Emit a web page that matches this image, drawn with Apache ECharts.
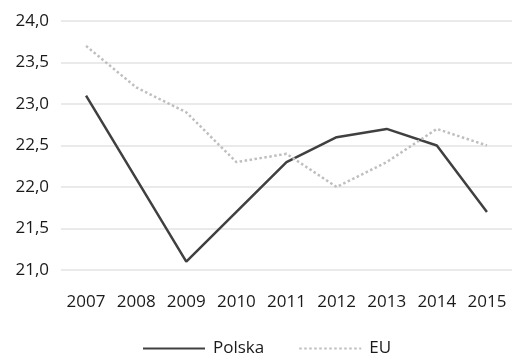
<!DOCTYPE html>
<html>
<head>
<meta charset="utf-8">
<script src="https://cdn.jsdelivr.net/npm/echarts@6/dist/echarts.min.js"></script>
<style>
  html, body { margin: 0; padding: 0; background: #fff; }
  #chart { width: 512px; height: 359px; }
</style>
</head>
<body>
<div id="chart"></div>
<script>
// Years on the category axis
const years = ['2007', '2008', '2009', '2010', '2011', '2012', '2013', '2014', '2015'];
// Values for Poland and the EU average
const polska = [23.1, 22.1, 21.1, 21.7, 22.3, 22.6, 22.7, 22.5, 21.7];
const eu = [23.7, 23.2, 22.9, 22.3, 22.4, 22.0, 22.3, 22.7, 22.5];
// Value axis range
const yMin = 21.0;
const yMax = 24.0;
const yStep = 0.5;

const font = '"Open Sans", "Noto Sans", sans-serif';
const chart = echarts.init(document.getElementById('chart'), null, { renderer: 'canvas' });

chart.setOption({
  animation: false,
  backgroundColor: '#ffffff',
  grid: { left: 61, right: 0, top: 21, bottom: 89, containLabel: false },
  legend: {
    bottom: 2,
    left: 142,
    padding: 0,
    itemWidth: 62,
    itemHeight: 14,
    itemGap: 34,
    itemStyle: { opacity: 0 },
    textStyle: { fontFamily: font, fontSize: 17, color: '#1a1a1a', padding: [0, 0, 0, 3] },
    data: ['Polska', 'EU']
  },
  xAxis: {
    type: 'category',
    data: years,
    boundaryGap: true,
    axisLine: { show: false },
    axisTick: { show: false },
    axisLabel: { fontFamily: font, fontSize: 17, color: '#1a1a1a', margin: 24, interval: 0 }
  },
  yAxis: {
    type: 'value',
    min: yMin,
    max: yMax,
    interval: yStep,
    axisLine: { show: false },
    axisTick: { show: false },
    splitLine: { lineStyle: { color: '#e3e3e3', width: 1.5 } },
    axisLabel: {
      fontFamily: font, fontSize: 17, color: '#1a1a1a', margin: 12,
      formatter: v => v.toFixed(1).replace('.', ',')
    }
  },
  series: [
    {
      name: 'Polska',
      type: 'line',
      data: polska,
      symbol: 'none',
      lineStyle: { color: '#404040', width: 2.5 },
      itemStyle: { color: '#404040' }
    },
    {
      name: 'EU',
      type: 'line',
      data: eu,
      symbol: 'none',
      lineStyle: { color: '#bfbfbf', width: 2.5, type: [2.5, 2.5] },
      itemStyle: { color: '#bfbfbf' }
    }
  ]
});
</script>
</body>
</html>
